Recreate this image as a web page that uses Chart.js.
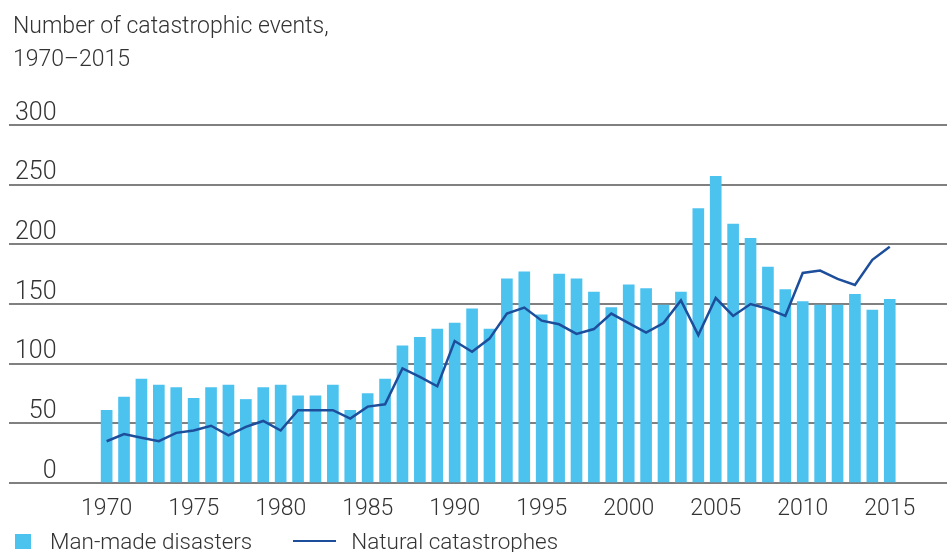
<!DOCTYPE html>
<html>
<head>
<meta charset="utf-8">
<script src="https://cdn.jsdelivr.net/npm/chart.js@4.4.1/dist/chart.umd.min.js"></script>
<style>
  html, body { margin: 0; padding: 0; background: #fff; }
  #wrap { position: relative; width: 947px; height: 552px; overflow: hidden;
          font-family: "Roboto", "Liberation Sans", sans-serif; font-weight: 300; color: #333; }
  #chart { position: absolute; left: 0; top: 0; }
  #title { position: absolute; left: 13px; top: 9px; font-size: 23px; line-height: 33px; }
  #legend { position: absolute; left: 15px; top: 528px; height: 26px; font-size: 22.5px;
            display: flex; align-items: center; white-space: nowrap; }
  .key { display: flex; align-items: center; flex-shrink: 0; }
  .swatch { display: inline-block; flex-shrink: 0; }
</style>
</head>
<body>
<div id="wrap">
  <canvas id="chart" width="947" height="552"></canvas>
  <div id="title">Number of catastrophic events,<br>1970–2015</div>
  <div id="legend"></div>
</div>
<script>
// Yearly event counts
const years = [
  1970, 1971, 1972, 1973, 1974, 1975, 1976, 1977, 1978, 1979,
  1980, 1981, 1982, 1983, 1984, 1985, 1986, 1987, 1988, 1989,
  1990, 1991, 1992, 1993, 1994, 1995, 1996, 1997, 1998, 1999,
  2000, 2001, 2002, 2003, 2004, 2005, 2006, 2007, 2008, 2009,
  2010, 2011, 2012, 2013, 2014, 2015
];
const manMade = [
  61, 72, 87, 82, 80, 71, 80, 82, 70, 80,
  82, 73, 73, 82, 61, 75, 87, 115, 122, 129,
  134, 146, 129, 171, 177, 141, 175, 171, 160, 147,
  166, 163, 149, 160, 230, 257, 217, 205, 181, 162,
  152, 149, 149, 158, 145, 154
];
const natural = [
  35, 41, 38, 35, 42, 44, 48, 40, 47, 52,
  44, 61, 61, 61, 54, 64, 66, 96, 89, 81,
  119, 110, 121, 142, 147, 136, 133, 125, 129, 142,
  134, 126, 134, 153, 124, 155, 140, 150, 146, 140,
  176, 178, 171, 166, 187, 198
];
const xTickYears = [1970, 1975, 1980, 1985, 1990, 1995, 2000, 2005, 2010, 2015];
const yTicks = [0, 50, 100, 150, 200, 250, 300];

const seriesNames = ['Man-made disasters', 'Natural catastrophes'];
const barColor = '#4cc2ef';
const lineColor = '#1d4e9b';
const textColor = '#333333';
const fontFamily = '"Roboto", "Liberation Sans", sans-serif';

const chart = new Chart(document.getElementById('chart'), {
  data: {
    datasets: [
      {
        type: 'line',
        label: seriesNames[1],
        data: years.map((y, i) => ({ x: y, y: natural[i] })),
        borderColor: lineColor,
        borderWidth: 2.5,
        pointRadius: 0,
        tension: 0,
        order: 0
      },
      {
        type: 'bar',
        label: seriesNames[0],
        data: years.map((y, i) => ({ x: y, y: manMade[i] })),
        backgroundColor: barColor,
        barThickness: 11,
        order: 1
      }
    ]
  },
  options: {
    responsive: false,
    animation: false,
    devicePixelRatio: 1,
    layout: { padding: { top: 125, left: 3, right: 0, bottom: 0 } },
    plugins: { legend: { display: false }, title: { display: false }, tooltip: { enabled: false } },
    scales: {
      x: {
        type: 'linear',
        offset: false,
        min: 1964.39,
        max: 2018.29,
        grid: { display: false, drawTicks: false, offset: false },
        border: { display: false },
        afterBuildTicks: (scale) => { scale.ticks = xTickYears.map(v => ({ value: v })); },
        afterFit: (scale) => { scale.height = 69; },
        ticks: {
          autoSkip: false,
          maxRotation: 0,
          padding: 12,
          color: textColor,
          font: { family: fontFamily, size: 23, weight: 300 },
          callback: (v) => String(v)
        }
      },
      y: {
        position: 'left',
        min: 0,
        max: 300,
        afterBuildTicks: (scale) => { scale.ticks = yTicks.map(v => ({ value: v })); },
        afterFit: (scale) => { scale.width = 6; },
        grid: { color: '#808080', lineWidth: 2, drawTicks: false },
        border: { display: false },
        ticks: {
          mirror: true,
          crossAlign: 'far',
          padding: 6,
          labelOffset: -11.5,
          color: textColor,
          font: { family: fontFamily, size: 25, weight: 300 }
        }
      }
    }
  }
});

// Legend built from the datasets
const legend = document.getElementById('legend');
const bars = chart.data.datasets[1];
const line = chart.data.datasets[0];
legend.innerHTML =
  '<span class="key"><span class="swatch" style="width:16px;height:15px;background:' + bars.backgroundColor + '"></span>' +
  '<span style="margin-left:19px">' + bars.label + '</span></span>' +
  '<span class="key" style="margin-left:41px"><span class="swatch" style="width:43px;height:2.5px;background:' + line.borderColor + '"></span>' +
  '<span style="margin-left:15px">' + line.label + '</span></span>';
</script>
</body>
</html>
